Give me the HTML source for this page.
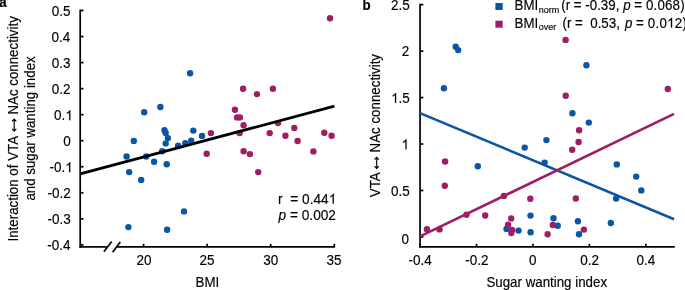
<!DOCTYPE html>
<html><head><meta charset="utf-8"><style>
html,body{margin:0;padding:0;background:#fff;width:685px;height:290px;overflow:hidden}
svg{display:block;will-change:transform}
text{font-family:"Liberation Sans", sans-serif;font-size:13.33px;fill:#000;stroke:#000;stroke-width:0.15px}
.tk{font-size:13.5px}
.st{font-size:13.7px}
.h1{fill:none;stroke:none}
</style></head><body>
<svg width="685" height="290" viewBox="0 0 685 290">
<line x1="80.20" y1="9.65" x2="80.20" y2="247.75" stroke="#000" stroke-width="1.7"/>
<line x1="80.20" y1="10.50" x2="83.50" y2="10.50" stroke="#000" stroke-width="1.7"/>
<text class="tk" x="70.47" y="15.91" text-anchor="end" transform="matrix(1 0 0 1.07 0 -1.114)">0.5</text>
<line x1="80.20" y1="36.54" x2="83.50" y2="36.54" stroke="#000" stroke-width="1.7"/>
<text class="tk" x="70.20" y="42.16" text-anchor="end" transform="matrix(1 0 0 1.07 0 -2.951)">0.4</text>
<line x1="80.20" y1="62.58" x2="83.50" y2="62.58" stroke="#000" stroke-width="1.7"/>
<text class="tk" x="70.49" y="68.21" text-anchor="end" transform="matrix(1 0 0 1.07 0 -4.775)">0.3</text>
<line x1="80.20" y1="88.62" x2="83.50" y2="88.62" stroke="#000" stroke-width="1.7"/>
<text class="tk" x="70.58" y="94.21" text-anchor="end" transform="matrix(1 0 0 1.07 0 -6.595)">0.2</text>
<line x1="80.20" y1="114.66" x2="83.50" y2="114.66" stroke="#000" stroke-width="1.7"/>
<text class="tk" x="72.87" y="120.21" text-anchor="end" transform="matrix(1 0 0 1.07 0 -8.415)">0.<tspan class="h1">1</tspan></text>
<line x1="80.20" y1="140.70" x2="83.50" y2="140.70" stroke="#000" stroke-width="1.7"/>
<text class="tk" x="70.73" y="146.21" text-anchor="end" transform="matrix(1 0 0 1.07 0 -10.235)">0</text>
<line x1="80.20" y1="166.74" x2="83.50" y2="166.74" stroke="#000" stroke-width="1.7"/>
<text class="tk" x="72.77" y="172.21" text-anchor="end" transform="matrix(1 0 0 1.07 0 -12.055)">-0.<tspan class="h1">1</tspan></text>
<line x1="80.20" y1="192.78" x2="83.50" y2="192.78" stroke="#000" stroke-width="1.7"/>
<text class="tk" x="70.88" y="198.21" text-anchor="end" transform="matrix(1 0 0 1.07 0 -13.875)">-0.2</text>
<line x1="80.20" y1="218.82" x2="83.50" y2="218.82" stroke="#000" stroke-width="1.7"/>
<text class="tk" x="70.79" y="224.41" text-anchor="end" transform="matrix(1 0 0 1.07 0 -15.709)">-0.3</text>
<line x1="80.20" y1="244.86" x2="83.50" y2="244.86" stroke="#000" stroke-width="1.7"/>
<text class="tk" x="70.60" y="250.31" text-anchor="end" transform="matrix(1 0 0 1.07 0 -17.522)">-0.4</text>
<line x1="79.35" y1="246.90" x2="107.60" y2="246.90" stroke="#000" stroke-width="1.7"/>
<line x1="116.40" y1="246.90" x2="335.10" y2="246.90" stroke="#000" stroke-width="1.7"/>
<line x1="103.90" y1="251.80" x2="111.70" y2="241.60" stroke="#000" stroke-width="1.7"/>
<line x1="112.60" y1="252.30" x2="120.30" y2="242.10" stroke="#000" stroke-width="1.7"/>
<line x1="143.60" y1="246.90" x2="143.60" y2="243.80" stroke="#000" stroke-width="1.7"/>
<text class="tk" x="136.42" y="265.00" transform="matrix(1 0 0 1.07 0 -18.550)">20</text>
<line x1="207.10" y1="246.90" x2="207.10" y2="243.80" stroke="#000" stroke-width="1.7"/>
<text class="tk" x="199.59" y="265.00" transform="matrix(1 0 0 1.07 0 -18.550)">25</text>
<line x1="270.70" y1="246.90" x2="270.70" y2="243.80" stroke="#000" stroke-width="1.7"/>
<text class="tk" x="263.20" y="265.00" transform="matrix(1 0 0 1.07 0 -18.550)">30</text>
<line x1="334.30" y1="246.90" x2="334.30" y2="243.80" stroke="#000" stroke-width="1.7"/>
<text class="tk" x="326.57" y="265.00" transform="matrix(1 0 0 1.07 0 -18.550)">35</text>
<text x="207.4" y="286.8" text-anchor="middle" transform="matrix(1 0 0 1.06 0 -17.208)">BMI</text>
<circle cx="190.1" cy="73.2" r="3.2" fill="#0b56a4"/>
<circle cx="160.4" cy="107.0" r="3.2" fill="#0b56a4"/>
<circle cx="144.2" cy="112.2" r="3.2" fill="#0b56a4"/>
<circle cx="133.8" cy="140.9" r="3.2" fill="#0b56a4"/>
<circle cx="164.5" cy="130.3" r="3.2" fill="#0b56a4"/>
<circle cx="165.7" cy="132.9" r="3.2" fill="#0b56a4"/>
<circle cx="167.9" cy="138.1" r="3.2" fill="#0b56a4"/>
<circle cx="165.7" cy="143.4" r="3.2" fill="#0b56a4"/>
<circle cx="162.2" cy="151.2" r="3.2" fill="#0b56a4"/>
<circle cx="126.6" cy="156.5" r="3.2" fill="#0b56a4"/>
<circle cx="146.2" cy="156.5" r="3.2" fill="#0b56a4"/>
<circle cx="154.1" cy="161.7" r="3.2" fill="#0b56a4"/>
<circle cx="166.7" cy="164.3" r="3.2" fill="#0b56a4"/>
<circle cx="129.2" cy="172.1" r="3.2" fill="#0b56a4"/>
<circle cx="141.2" cy="180.0" r="3.2" fill="#0b56a4"/>
<circle cx="184.0" cy="211.4" r="3.2" fill="#0b56a4"/>
<circle cx="128.4" cy="227.1" r="3.2" fill="#0b56a4"/>
<circle cx="167.1" cy="229.7" r="3.2" fill="#0b56a4"/>
<circle cx="193.3" cy="130.6" r="3.2" fill="#0b56a4"/>
<circle cx="202.0" cy="135.9" r="3.2" fill="#0b56a4"/>
<circle cx="191.2" cy="140.7" r="3.2" fill="#0b56a4"/>
<circle cx="185.3" cy="143.2" r="3.2" fill="#0b56a4"/>
<circle cx="178.1" cy="145.7" r="3.2" fill="#0b56a4"/>
<circle cx="330.0" cy="18.3" r="3.2" fill="#a01d64"/>
<circle cx="243.1" cy="88.8" r="3.2" fill="#a01d64"/>
<circle cx="256.9" cy="94.1" r="3.2" fill="#a01d64"/>
<circle cx="272.9" cy="88.8" r="3.2" fill="#a01d64"/>
<circle cx="234.9" cy="109.7" r="3.2" fill="#a01d64"/>
<circle cx="237.1" cy="117.4" r="3.2" fill="#a01d64"/>
<circle cx="239.9" cy="117.4" r="3.2" fill="#a01d64"/>
<circle cx="243.6" cy="125.2" r="3.2" fill="#a01d64"/>
<circle cx="239.6" cy="133.1" r="3.2" fill="#a01d64"/>
<circle cx="210.9" cy="133.1" r="3.2" fill="#a01d64"/>
<circle cx="206.7" cy="153.8" r="3.2" fill="#a01d64"/>
<circle cx="243.6" cy="151.3" r="3.2" fill="#a01d64"/>
<circle cx="249.9" cy="154.1" r="3.2" fill="#a01d64"/>
<circle cx="258.2" cy="172.1" r="3.2" fill="#a01d64"/>
<circle cx="269.7" cy="133.1" r="3.2" fill="#a01d64"/>
<circle cx="278.0" cy="123.1" r="3.2" fill="#a01d64"/>
<circle cx="285.4" cy="135.7" r="3.2" fill="#a01d64"/>
<circle cx="294.3" cy="128.0" r="3.2" fill="#a01d64"/>
<circle cx="297.6" cy="141.0" r="3.2" fill="#a01d64"/>
<circle cx="324.3" cy="132.8" r="3.2" fill="#a01d64"/>
<circle cx="331.6" cy="135.7" r="3.2" fill="#a01d64"/>
<circle cx="313.4" cy="151.4" r="3.2" fill="#a01d64"/>
<line x1="80.20" y1="173.80" x2="334.40" y2="106.20" stroke="#000" stroke-width="2.8"/>
<text class="st" x="278.1" y="203.7" transform="matrix(1 0 0 1.06 0 -12.222)" xml:space="preserve">r  = 0.44<tspan class="h1">1</tspan></text>
<text class="st" x="278.5" y="219.9" transform="matrix(1 0 0 1.06 0 -13.194)"><tspan font-style="italic">p</tspan> = 0.002</text>
<text transform="translate(18.1,241.5) rotate(-90) scale(1,1.06)">Interaction of VTA</text>
<text transform="translate(18.1,114.6) rotate(-90) scale(1,1.06)">NAc connectivity</text>
<path d="M14.2,119.0 L14.2,131.2 M12.1,121.4 L14.2,119.0 L16.3,121.4 M12.1,128.8 L14.2,131.2 L16.3,128.8" fill="none" stroke="#000" stroke-width="1.15"/>
<text transform="translate(35.3,200.6) rotate(-90) scale(1,1.06)">and sugar wanting index</text>
<text x="-0.8" y="6.6" font-weight="bold" font-size="13.7" transform="matrix(1 0 0 1.08 0 -0.528)">a</text>
<line x1="420.05" y1="3.80" x2="420.05" y2="247.75" stroke="#000" stroke-width="1.7"/>
<line x1="420.05" y1="236.95" x2="423.35" y2="236.95" stroke="#000" stroke-width="1.7"/>
<text class="tk" x="409.03" y="244.21" text-anchor="end" transform="matrix(1 0 0 1.07 0 -17.095)">0</text>
<line x1="420.05" y1="190.49" x2="423.35" y2="190.49" stroke="#000" stroke-width="1.7"/>
<text class="tk" x="409.87" y="195.91" text-anchor="end" transform="matrix(1 0 0 1.07 0 -13.714)">0.5</text>
<line x1="420.05" y1="144.03" x2="423.35" y2="144.03" stroke="#000" stroke-width="1.7"/>
<text class="tk" x="409.07" y="149.21" text-anchor="end" transform="matrix(1 0 0 1.07 0 -10.445)"><tspan class="h1">1</tspan></text>
<line x1="420.05" y1="97.57" x2="423.35" y2="97.57" stroke="#000" stroke-width="1.7"/>
<text class="tk" x="409.87" y="102.91" text-anchor="end" transform="matrix(1 0 0 1.07 0 -7.204)"><tspan class="h1">1</tspan>.5</text>
<line x1="420.05" y1="51.11" x2="423.35" y2="51.11" stroke="#000" stroke-width="1.7"/>
<text class="tk" x="409.18" y="56.16" text-anchor="end" transform="matrix(1 0 0 1.07 0 -3.931)">2</text>
<line x1="420.05" y1="4.65" x2="423.35" y2="4.65" stroke="#000" stroke-width="1.7"/>
<text class="tk" x="409.77" y="10.36" text-anchor="end" transform="matrix(1 0 0 1.07 0 -0.725)">2.5</text>
<line x1="419.20" y1="246.90" x2="674.80" y2="246.90" stroke="#000" stroke-width="1.7"/>
<line x1="420.05" y1="246.90" x2="420.05" y2="243.80" stroke="#000" stroke-width="1.7"/>
<text class="tk" x="408.47" y="265.00" transform="matrix(1 0 0 1.07 0 -18.550)">-0.4</text>
<line x1="476.50" y1="246.90" x2="476.50" y2="243.80" stroke="#000" stroke-width="1.7"/>
<text class="tk" x="465.31" y="265.00" transform="matrix(1 0 0 1.07 0 -18.550)">-0.2</text>
<line x1="532.95" y1="246.90" x2="532.95" y2="243.80" stroke="#000" stroke-width="1.7"/>
<text class="tk" x="529.05" y="265.00" transform="matrix(1 0 0 1.07 0 -18.550)">0</text>
<line x1="589.40" y1="246.90" x2="589.40" y2="243.80" stroke="#000" stroke-width="1.7"/>
<text class="tk" x="580.19" y="265.00" transform="matrix(1 0 0 1.07 0 -18.550)">0.2</text>
<line x1="645.85" y1="246.90" x2="645.85" y2="243.80" stroke="#000" stroke-width="1.7"/>
<text class="tk" x="636.45" y="265.00" transform="matrix(1 0 0 1.07 0 -18.550)">0.4</text>
<text x="546.75" y="286.8" text-anchor="middle" transform="matrix(1 0 0 1.06 0 -17.208)">Sugar wanting index</text>
<text transform="translate(380.0,197.2) rotate(-90) scale(1,1.06)">VTA</text>
<text transform="translate(380.0,152.4) rotate(-90) scale(1,1.06)">NAc connectivity</text>
<path d="M376.7,157.3 L376.7,168.6 M374.59999999999997,159.7 L376.7,157.3 L378.8,159.7 M374.59999999999997,166.20000000000002 L376.7,168.6 L378.8,166.20000000000002" fill="none" stroke="#000" stroke-width="1.15"/>
<circle cx="455.7" cy="46.8" r="3.2" fill="#0b56a4"/>
<circle cx="458.2" cy="50.1" r="3.2" fill="#0b56a4"/>
<circle cx="443.9" cy="88.2" r="3.2" fill="#0b56a4"/>
<circle cx="586.4" cy="65.2" r="3.2" fill="#0b56a4"/>
<circle cx="572.4" cy="113.3" r="3.2" fill="#0b56a4"/>
<circle cx="588.8" cy="122.6" r="3.2" fill="#0b56a4"/>
<circle cx="524.7" cy="147.6" r="3.2" fill="#0b56a4"/>
<circle cx="546.4" cy="140.1" r="3.2" fill="#0b56a4"/>
<circle cx="544.6" cy="162.6" r="3.2" fill="#0b56a4"/>
<circle cx="477.8" cy="166.3" r="3.2" fill="#0b56a4"/>
<circle cx="616.8" cy="164.4" r="3.2" fill="#0b56a4"/>
<circle cx="636.2" cy="176.6" r="3.2" fill="#0b56a4"/>
<circle cx="641.3" cy="190.4" r="3.2" fill="#0b56a4"/>
<circle cx="616.1" cy="198.6" r="3.2" fill="#0b56a4"/>
<circle cx="610.8" cy="223.0" r="3.2" fill="#0b56a4"/>
<circle cx="553.5" cy="218.3" r="3.2" fill="#0b56a4"/>
<circle cx="557.7" cy="225.8" r="3.2" fill="#0b56a4"/>
<circle cx="577.9" cy="221.3" r="3.2" fill="#0b56a4"/>
<circle cx="579.0" cy="234.2" r="3.2" fill="#0b56a4"/>
<circle cx="506.5" cy="228.9" r="3.2" fill="#0b56a4"/>
<circle cx="518.5" cy="230.6" r="3.2" fill="#0b56a4"/>
<circle cx="530.5" cy="215.6" r="3.2" fill="#0b56a4"/>
<circle cx="530.6" cy="232.3" r="3.2" fill="#0b56a4"/>
<circle cx="565.6" cy="39.9" r="3.2" fill="#a01d64"/>
<circle cx="565.7" cy="95.7" r="3.2" fill="#a01d64"/>
<circle cx="579.1" cy="130.3" r="3.2" fill="#a01d64"/>
<circle cx="578.6" cy="142.0" r="3.2" fill="#a01d64"/>
<circle cx="572.2" cy="149.7" r="3.2" fill="#a01d64"/>
<circle cx="667.8" cy="89.0" r="3.2" fill="#a01d64"/>
<circle cx="445.1" cy="161.5" r="3.2" fill="#a01d64"/>
<circle cx="444.8" cy="185.8" r="3.2" fill="#a01d64"/>
<circle cx="426.9" cy="229.2" r="3.2" fill="#a01d64"/>
<circle cx="439.5" cy="229.4" r="3.2" fill="#a01d64"/>
<circle cx="466.5" cy="214.7" r="3.2" fill="#a01d64"/>
<circle cx="485.2" cy="215.5" r="3.2" fill="#a01d64"/>
<circle cx="503.9" cy="195.9" r="3.2" fill="#a01d64"/>
<circle cx="511.2" cy="218.4" r="3.2" fill="#a01d64"/>
<circle cx="508.1" cy="224.8" r="3.2" fill="#a01d64"/>
<circle cx="512.0" cy="229.9" r="3.2" fill="#a01d64"/>
<circle cx="511.3" cy="233.0" r="3.2" fill="#a01d64"/>
<circle cx="575.8" cy="198.5" r="3.2" fill="#a01d64"/>
<circle cx="552.8" cy="225.0" r="3.2" fill="#a01d64"/>
<circle cx="547.6" cy="234.2" r="3.2" fill="#a01d64"/>
<circle cx="583.9" cy="229.6" r="3.2" fill="#a01d64"/>
<circle cx="530.3" cy="198.75" r="3.2" fill="#a01d64"/>
<line x1="420.05" y1="113.10" x2="674.10" y2="219.30" stroke="#0b56a4" stroke-width="2.6"/>
<line x1="420.05" y1="236.40" x2="674.00" y2="113.80" stroke="#a01d64" stroke-width="2.6"/>
<text x="362.4" y="9.95" font-weight="bold" font-size="13.7" transform="matrix(1 0 0 1.08 0 -0.796)">b</text>
<rect x="495.4" y="3" width="7.3" height="7" fill="#0b56a4"/>
<rect x="495.4" y="20.7" width="7.3" height="7" fill="#a01d64"/>
<text x="514.5" y="9.9" transform="matrix(1 0 0 1.06 0 -0.594)">BMI<tspan font-size="9" dx="0.5" dy="2.7">norm</tspan></text>
<text x="514.5" y="27.6" transform="matrix(1 0 0 1.06 0 -1.656)">BMI<tspan font-size="9" dx="0.5" dy="2.7">over</tspan></text>
<text x="561.3" y="9.9" transform="matrix(1 0 0 1.06 0 -0.594)">(r = -0.39,</text>
<text x="623.3" y="9.9" transform="matrix(1 0 0 1.06 0 -0.594)" font-style="italic">p</text>
<text x="634.3" y="9.9" transform="matrix(1 0 0 1.06 0 -0.594)" letter-spacing="0.15">= 0.068)</text>
<text x="562.5" y="27.6" transform="matrix(1 0 0 1.06 0 -1.656)" xml:space="preserve">(r =  0.53,</text>
<text x="625.0" y="27.6" transform="matrix(1 0 0 1.06 0 -1.656)" font-style="italic">p</text>
<text x="635.9" y="27.6" transform="matrix(1 0 0 1.06 0 -1.656)" letter-spacing="0.25">= 0.0<tspan class="h1">1</tspan>2)</text>
<g transform="matrix(1 0 0 1.07 0 -8.415)"><path d="M763,0L583,0L583,1106Q518,1047 412,987Q306,927 222,897L222,1065Q373,1133 486,1231Q599,1328 646,1420L763,1420Z" transform="translate(65.36,120.21) scale(0.006592,-0.006592)" fill="#000" stroke="#000" stroke-width="22.8"/></g>
<g transform="matrix(1 0 0 1.07 0 -12.055)"><path d="M763,0L583,0L583,1106Q518,1047 412,987Q306,927 222,897L222,1065Q373,1133 486,1231Q599,1328 646,1420L763,1420Z" transform="translate(65.26,172.21) scale(0.006592,-0.006592)" fill="#000" stroke="#000" stroke-width="22.8"/></g>
<g transform="matrix(1 0 0 1.06 0 -12.222)"><path d="M763,0L583,0L583,1106Q518,1047 412,987Q306,927 222,897L222,1065Q373,1133 486,1231Q599,1328 646,1420L763,1420Z" transform="translate(328.73,203.70) scale(0.006689,-0.006689)" fill="#000" stroke="#000" stroke-width="22.4"/></g>
<g transform="matrix(1 0 0 1.07 0 -10.445)"><path d="M763,0L583,0L583,1106Q518,1047 412,987Q306,927 222,897L222,1065Q373,1133 486,1231Q599,1328 646,1420L763,1420Z" transform="translate(401.56,149.21) scale(0.006592,-0.006592)" fill="#000" stroke="#000" stroke-width="22.8"/></g>
<g transform="matrix(1 0 0 1.07 0 -7.204)"><path d="M763,0L583,0L583,1106Q518,1047 412,987Q306,927 222,897L222,1065Q373,1133 486,1231Q599,1328 646,1420L763,1420Z" transform="translate(391.10,102.91) scale(0.006592,-0.006592)" fill="#000" stroke="#000" stroke-width="22.8"/></g>
<g transform="matrix(1 0 0 1.06 0 -1.656)"><path d="M763,0L583,0L583,1106Q518,1047 412,987Q306,927 222,897L222,1065Q373,1133 486,1231Q599,1328 646,1420L763,1420Z" transform="translate(667.14,27.60) scale(0.006509,-0.006509)" fill="#000" stroke="#000" stroke-width="23.0"/></g>
</svg>
</body></html>
